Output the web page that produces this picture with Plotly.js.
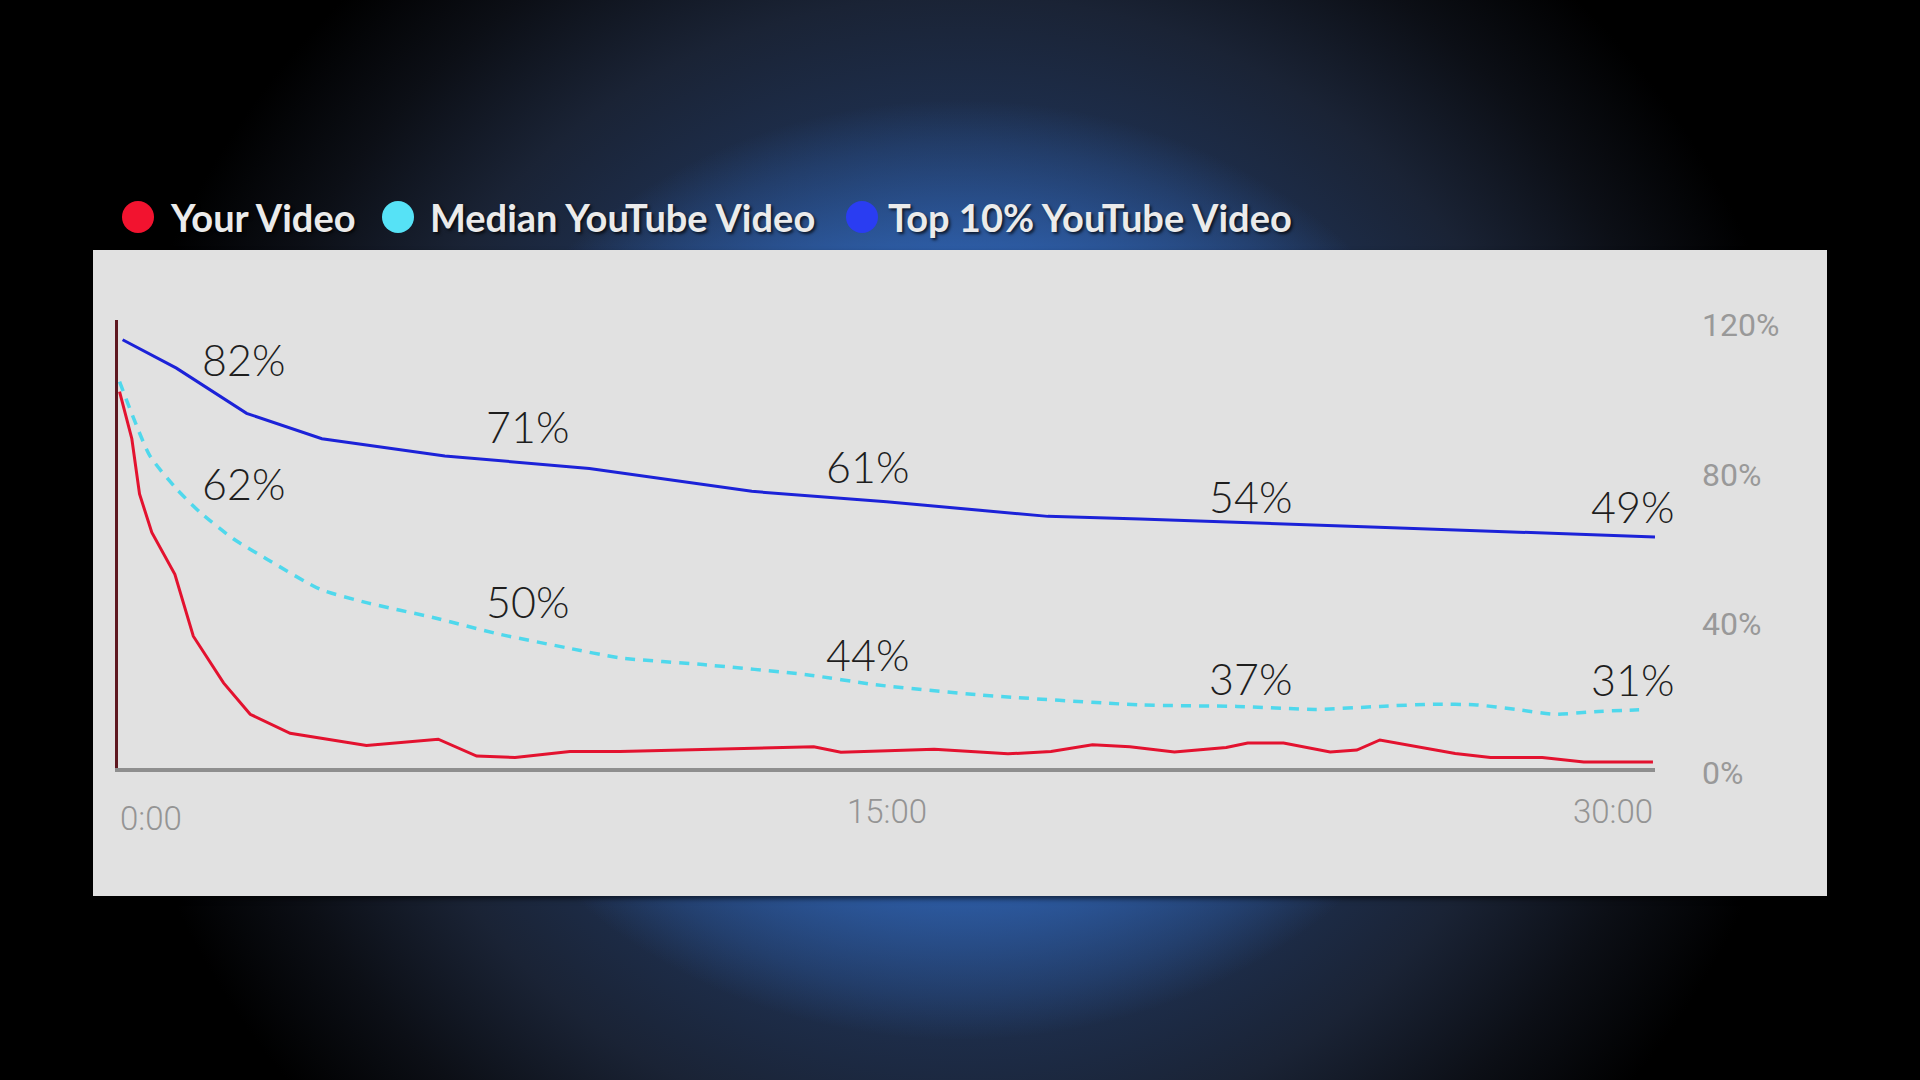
<!DOCTYPE html>
<html>
<head>
<meta charset="utf-8">
<script src="https://cdn.plot.ly/plotly-3.0.1.min.js"></script>
<style>
  html, body { margin: 0; padding: 0; width: 1920px; height: 1080px; overflow: hidden; }
  body {
    background:
      radial-gradient(ellipse 540px 470px at 960px 570px, rgba(60,122,212,1) 0%, rgba(47,98,176,0.95) 65%, rgba(40,80,145,0) 100%),
      radial-gradient(ellipse 860px 820px at 960px 570px, #26406e 0%, #1e3050 52%, #1a2335 70%, #0c0f16 86%, #000 100%);
    background-color: #000;
  }
  #panel {
    position: absolute; left: 93px; top: 250px; width: 1734px; height: 646px;
    background: #e1e1e1; box-shadow: 0 3px 5px rgba(0,0,0,0.55);
  }
  #chart { position: absolute; left: 0; top: 0; width: 1920px; height: 1080px; }
</style>
</head>
<body>
<div id="panel"></div>
<div id="chart"></div>
<script>
// series: minutes into the video, % of audience still watching
const yourMinutes = [0.03, 0.27, 0.42, 0.66, 1.11, 1.47, 2.06, 2.58, 3.36, 4.85, 6.25, 7.00, 7.75, 8.82, 9.80, 13.58, 14.11, 15.93, 17.37, 18.21, 19.02, 19.75, 20.62, 21.63, 22.05, 22.75, 23.66, 24.18, 24.63, 26.10, 26.79, 27.80, 28.61, 29.96];
const yourValues  = [100.8, 88.2, 73.4, 63.1, 51.9, 35.3, 22.8, 14.4, 9.3, 6.0, 7.7, 3.2, 2.8, 4.4, 4.4, 5.7, 4.2, 5.0, 3.8, 4.4, 6.2, 5.7, 4.3, 5.5, 6.7, 6.7, 4.3, 4.8, 7.5, 3.9, 2.8, 2.8, 1.6, 1.6];

const medianMinutes = [0.03, 0.62, 1.14, 1.60, 2.25, 2.90, 3.94, 4.85, 6.15, 7.46, 8.76, 9.80, 11.42, 13.44, 14.79, 16.80, 19.95, 21.84, 23.38, 24.63, 25.68, 26.52, 27.28, 28.05, 28.82, 29.69];
const medianValues  = [103.5, 83.7, 74.8, 68.5, 61.4, 56.0, 47.9, 44.3, 40.3, 35.8, 32.2, 29.5, 27.7, 25.0, 22.3, 19.6, 16.9, 16.5, 15.7, 16.5, 17.1, 16.9, 15.7, 14.4, 15.1, 15.6];

const topMinutes = [0.09, 1.14, 2.51, 3.98, 6.38, 9.2, 12.37, 15.0, 18.15, 19.95, 24.6, 30.0];
const topValues  = [114.7, 107.1, 95.0, 88.2, 83.6, 80.2, 74.1, 71.3, 67.4, 66.7, 64.5, 61.9];

// callout labels
const labelMinutes = [1.6, 7.14, 13.78, 21.26, 28.71];
const topLabels    = ['82%', '71%', '61%', '54%', '49%'];
const medianLabels = ['62%', '50%', '44%', '37%', '31%'];

// axis ticks
const xTickVals = [0, 15, 30];
const xTickText = ['0:00', '15:00', '30:00'];
const yTickVals = [0, 40, 80, 120];
const yTickText = ['0%', '40%', '80%', '120%'];

const seriesNames  = ['Your Video', 'Median YouTube Video', 'Top 10% YouTube Video'];
const seriesColors = ['#e3122f', '#4fd8ec', '#1c22d8'];
const legendColors = ['#f2132f', '#56e2f6', '#2a3df2'];

// plot area in page pixels
const L = 118, R = 1655, T = 320, B = 768;
const px = x => (x - L) / (R - L);
const py = y => (B - y) / (B - T);

const traces = [
  {
    x: medianMinutes, y: medianValues, name: seriesNames[1], type: 'scatter', mode: 'lines',
    line: {color: seriesColors[1], width: 3.5, dash: '10px,8px', shape: 'spline', smoothing: 0.6}
  },
  {
    x: topMinutes, y: topValues, name: seriesNames[2], type: 'scatter', mode: 'lines',
    line: {color: seriesColors[2], width: 3}
  },
  {
    // on the overlaid left axis so the maroon axis line gets drawn
    x: yourMinutes, y: yourValues, name: seriesNames[0], type: 'scatter', mode: 'lines', yaxis: 'y2',
    line: {color: seriesColors[0], width: 3}
  }
];

// callout text positions (axis units), just above each line
const topLabelY    = [109.3, 91.4, 80.7, 72.7, 70.0];
const medianLabelY = [76.3, 44.6, 30.5, 24.0, 23.6];

const annotations = [];
const calloutFont = {family: 'Lato, "Open Sans", sans-serif', weight: 300, size: 43, color: '#1e1e1e'};
labelMinutes.forEach(function(m, i){
  annotations.push({x: m, y: topLabelY[i], xref: 'x', yref: 'y', text: topLabels[i],
    showarrow: false, xanchor: 'left', yanchor: 'middle', font: calloutFont});
  annotations.push({x: m, y: medianLabelY[i], xref: 'x', yref: 'y', text: medianLabels[i],
    showarrow: false, xanchor: 'left', yanchor: 'middle', font: calloutFont});
});

// x tick labels: first left aligned, middle centred, last right aligned
const xAnchors = ['left', 'center', 'right'];
const xLabelY = [818, 811, 811];
xTickVals.forEach(function(v, i){
  annotations.push({x: v, y: py(xLabelY[i]), xref: 'x', yref: 'paper', text: xTickText[i],
    showarrow: false, xanchor: xAnchors[i], yanchor: 'middle',
    font: {family: 'Roboto, sans-serif', weight: 300, size: 33, color: '#949494'}});
});

// legend above the panel
const legendDotX  = [138, 398, 862];
const legendTextX = [168, 428, 886];
const legendY = 217;
const shapes = [];
seriesNames.forEach(function(n, i){
  shapes.push({type: 'circle', xref: 'paper', yref: 'paper', xsizemode: 'pixel', ysizemode: 'pixel',
    xanchor: px(legendDotX[i]), yanchor: py(legendY), x0: -16, x1: 16, y0: -16, y1: 16,
    fillcolor: legendColors[i], line: {width: 0}});
  annotations.push({x: px(legendTextX[i]), y: py(legendY), xref: 'paper', yref: 'paper', text: n,
    showarrow: false, xanchor: 'left', yanchor: 'middle',
    font: {family: 'Lato, sans-serif', weight: 700, size: 38, color: '#ebebeb', shadow: '2px 2px 3px rgba(0,0,0,0.7)'}});
});

const layout = {
  width: 1920, height: 1080,
  margin: {l: L, r: 1920 - R, t: T, b: 1080 - B, pad: 0},
  paper_bgcolor: 'rgba(0,0,0,0)',
  plot_bgcolor: 'rgba(0,0,0,0)',
  showlegend: false,
  xaxis: {
    range: [0, 30], showgrid: false, zeroline: false, showticklabels: false, ticks: '',
    showline: true, linecolor: '#8e8e8e', linewidth: 4, fixedrange: true
  },
  yaxis: {
    range: [0, 120], side: 'right', showgrid: false, zeroline: false, showline: false,
    tickvals: yTickVals, ticktext: yTickText, ticks: '', ticklabelstandoff: 46, ticklabelshift: 5,
    tickfont: {family: 'Roboto, sans-serif', weight: 400, size: 32, color: '#999999'}, fixedrange: true
  },
  yaxis2: {
    range: [0, 120], overlaying: 'y', side: 'left', showgrid: false, zeroline: false, showticklabels: false, ticks: '',
    showline: true, linecolor: '#5e1820', linewidth: 3, fixedrange: true
  },
  annotations: annotations,
  shapes: shapes
};

Plotly.newPlot('chart', traces, layout, {displayModeBar: false, staticPlot: true});
</script>
</body>
</html>
